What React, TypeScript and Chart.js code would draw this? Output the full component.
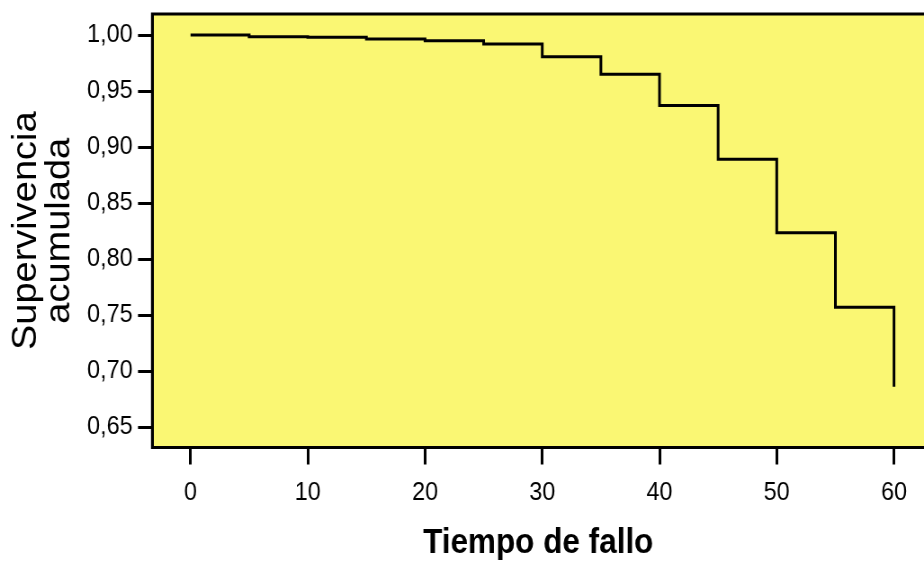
import React, { useEffect, useRef } from "react";
import { Chart, registerables } from "chart.js";

Chart.register(...registerables);

// Kaplan-Meier style cumulative survival (value after each time point)
const times = [0, 5, 10, 15, 20, 25, 30, 35, 40, 45, 50, 55, 60];
const survival = [1.0, 0.9985, 0.998, 0.9964, 0.9949, 0.992, 0.9806, 0.965, 0.937, 0.889, 0.8235, 0.757, 0.686];
const xTickValues = [0, 10, 20, 30, 40, 50, 60];
const yTickValues = [0.65, 0.7, 0.75, 0.8, 0.85, 0.9, 0.95, 1.0];
const xTitle = "Tiempo de fallo";
const yTitle = ["Supervivencia", "acumulada"];

const DISPLAY_W = 924;
const DISPLAY_H = 563;
const INTERNAL_W = 1027; // rendered slightly wider, shown compressed horizontally
const FONT = "'Liberation Sans', Arial, sans-serif";
const PLOT_BG = "#FAF773";

const framePlugin = {
  id: "framePlugin",
  beforeDraw(chart: any) {
    const { ctx, chartArea } = chart;
    ctx.save();
    ctx.fillStyle = PLOT_BG;
    ctx.fillRect(chartArea.left, chartArea.top, chartArea.right - chartArea.left, chartArea.bottom - chartArea.top);
    ctx.restore();
  },
  afterDraw(chart: any) {
    const { ctx, chartArea } = chart;
    ctx.save();
    ctx.strokeStyle = "#000";
    ctx.lineWidth = 3.2;
    ctx.lineCap = "square";
    ctx.beginPath();
    ctx.moveTo(chartArea.right + 5, chartArea.top);
    ctx.lineTo(chartArea.left, chartArea.top);
    ctx.lineTo(chartArea.left, chartArea.bottom);
    ctx.lineTo(chartArea.right + 5, chartArea.bottom);
    ctx.stroke();
    ctx.restore();
  },
};

export default function App() {
  const canvasRef = useRef<HTMLCanvasElement | null>(null);

  useEffect(() => {
    const canvas = canvasRef.current;
    if (!canvas) return;
    const chart = new Chart(canvas, {
      type: "line",
      data: {
        datasets: [
          {
            data: times.map((t, i) => ({ x: t, y: survival[i] })),
            borderColor: "#000",
            borderWidth: 3,
            pointRadius: 0,
            stepped: "before",
            fill: false,
          },
        ],
      },
      options: {
        responsive: false,
        animation: false,
        devicePixelRatio: 1,
        events: [],
        layout: { padding: { top: 14, left: 0, right: 0, bottom: 0 } },
        plugins: { legend: { display: false }, tooltip: { enabled: false }, title: { display: false } },
        scales: {
          x: {
            type: "linear",
            min: -3.25,
            max: 62.56,
            afterBuildTicks: (scale: any) => {
              scale.ticks = xTickValues.map((v) => ({ value: v }));
            },
            afterFit: (scale: any) => {
              scale.height = 115.5;
              scale.paddingLeft = 0;
              scale.paddingRight = 0;
            },
            grid: {
              display: true,
              drawOnChartArea: false,
              drawTicks: true,
              tickLength: 17,
              tickWidth: 3,
              tickColor: "#000",
              color: "#000",
            },
            border: { display: false },
            ticks: {
              color: "#000",
              padding: 13,
              maxRotation: 0,
              autoSkip: false,
              font: { family: FONT, size: 26 },
              callback: (v: any) => String(v),
            },
            title: {
              display: true,
              text: xTitle,
              color: "#000",
              padding: { top: 0, bottom: 0 },
              font: { family: FONT, size: 35, weight: "bold", lineHeight: 1.1 },
            },
          },
          y: {
            type: "linear",
            min: 0.6317,
            max: 1.01875,
            afterBuildTicks: (scale: any) => {
              scale.ticks = yTickValues.map((v) => ({ value: v }));
            },
            afterFit: (scale: any) => {
              scale.width = 169.4;
              scale.paddingTop = 0;
              scale.paddingBottom = 0;
            },
            grid: {
              display: true,
              drawOnChartArea: false,
              drawTicks: true,
              tickLength: 16,
              tickWidth: 3,
              tickColor: "#000",
              color: "#000",
            },
            border: { display: false },
            ticks: {
              color: "#000",
              padding: 6,
              autoSkip: false,
              font: { family: FONT, size: 26 },
              callback: (v: any) => Number(v).toFixed(2).replace(".", ","),
            },
            title: {
              display: true,
              text: yTitle,
              color: "#000",
              padding: { top: 10.5, bottom: 0 },
              font: { family: FONT, size: 38, lineHeight: 0.99 },
            },
          },
        },
      },
      plugins: [framePlugin],
    } as any);
    return () => chart.destroy();
  }, []);

  return (
    <div style={{ position: "fixed", left: 0, top: 0, width: DISPLAY_W, height: DISPLAY_H, background: "#fff" }}>
      <canvas
        ref={canvasRef}
        width={INTERNAL_W}
        height={DISPLAY_H}
        style={{ width: DISPLAY_W + "px", height: DISPLAY_H + "px", display: "block" }}
      />
    </div>
  );
}
